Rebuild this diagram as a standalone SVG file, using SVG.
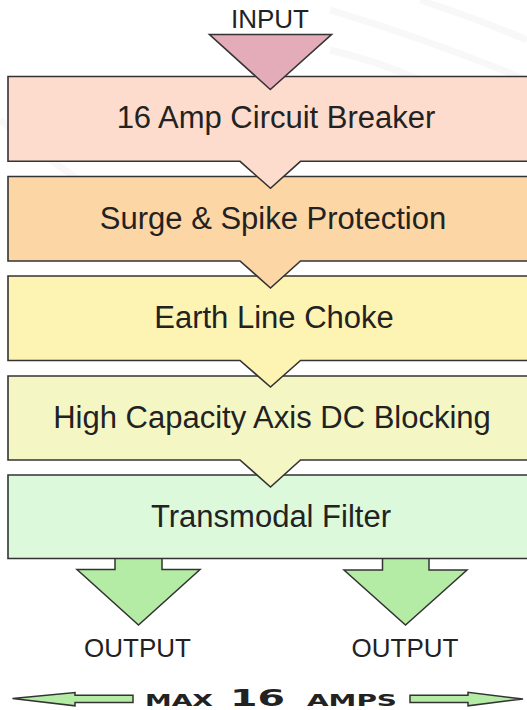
<svg xmlns="http://www.w3.org/2000/svg" width="527" height="710" viewBox="0 0 527 710">
<style>
.box{stroke:#333;stroke-width:1.6;stroke-linejoin:miter}
.lbl{font-family:"Liberation Sans",Arial,sans-serif;font-size:31px;fill:#222;text-anchor:middle}
.io{font-family:"Liberation Sans",Arial,sans-serif;font-size:26px;fill:#222;text-anchor:middle}
.arr{fill:#b5eca5;stroke:#333;stroke-width:1.5;stroke-linejoin:miter}
.bg{fill:none;stroke:#f8f8f8;stroke-width:7}
.max{font-family:"DejaVu Sans",sans-serif;font-weight:bold;fill:#222}
</style>
<rect width="527" height="710" fill="#fff"/>
<g id="background">
<path class="bg" d="M420,0 Q480,20 527,40"/>
<path class="bg" d="M330,10 Q430,40 527,80"/>
<path class="bg" d="M330,50 Q380,62 420,80"/>
<path class="bg" d="M0,120 Q60,170 110,200"/>
</g>
<g id="output-left">
<path class="arr" d="M115,550 V569.5 H77 L138.5,625 L200,569.5 H162 V550 Z"/>
<text class="io" x="137.5" y="656.5">OUTPUT</text>
</g>
<g id="output-right">
<path class="arr" d="M382.5,550 V570 H344 L405.5,625 L467,570 H429 V550 Z"/>
<text class="io" x="405" y="656.5">OUTPUT</text>
</g>
<g id="transmodal-filter">
<path class="box" fill="#ddf9dc" d="M8,475 H540 V558.5 H8 Z"/>
<text class="lbl" x="271" y="527">Transmodal Filter</text>
</g>
<g id="dc-blocking">
<path class="box" fill="#f4f7c3" d="M8,376 H540 V460 H300.5 L270.5,487 L240,460 H8 Z"/>
<text class="lbl" x="272" y="428">High Capacity Axis DC Blocking</text>
</g>
<g id="earth-line-choke">
<path class="box" fill="#fdf3b3" d="M8,276 H540 V360.5 H300.5 L270.5,387 L240,360.5 H8 Z"/>
<text class="lbl" x="274" y="328">Earth Line Choke</text>
</g>
<g id="surge-spike-protection">
<path class="box" fill="#fdd6a5" d="M8,176.5 H540 V261 H300.5 L270.5,288 L240,261 H8 Z"/>
<text class="lbl" x="273" y="228.5">Surge &amp; Spike Protection</text>
</g>
<g id="circuit-breaker">
<path class="box" fill="#fddccd" d="M8,76.5 H540 V161.3 H300.5 L270.5,188.3 L240,161.3 H8 Z"/>
<text class="lbl" x="276" y="128.3">16 Amp Circuit Breaker</text>
</g>
<g id="input">
<path class="box" fill="#e4abb9" d="M209.5,34.5 H331.5 L270.3,89.5 Z"/>
<text class="io" x="270" y="28">INPUT</text>
</g>
<g id="connectors">
<path class="arr" d="M12.5,698.5 L75,692.5 V695.2 H133 V702.5 H75 V705.8 Z"/>
<path class="arr" d="M523,699 L468,692.3 V695.2 H410 V702.5 H468 V705.8 Z"/>
</g>
<g id="max-label">
<text class="max" y="705.5"><tspan x="145" font-size="16" textLength="68" lengthAdjust="spacingAndGlyphs">MAX</tspan><tspan x="230" font-size="23" textLength="55" lengthAdjust="spacingAndGlyphs">16</tspan><tspan x="307" font-size="16" textLength="90" lengthAdjust="spacingAndGlyphs">AMPS</tspan></text>
</g>
</svg>
